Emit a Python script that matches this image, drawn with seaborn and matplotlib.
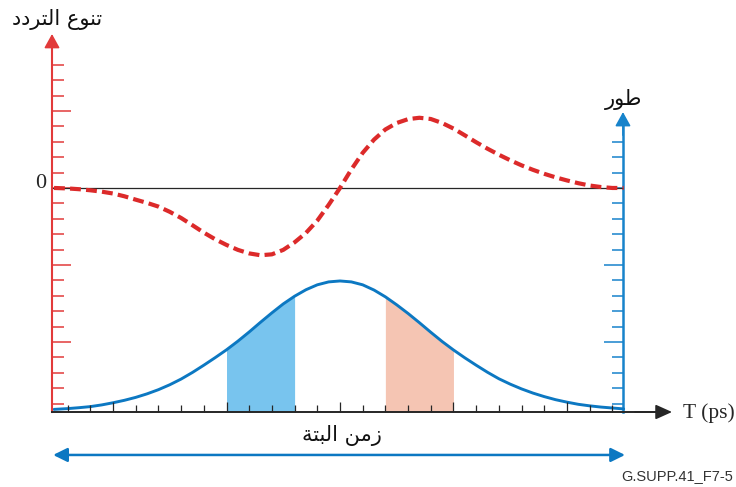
import numpy as np
import pandas as pd
import matplotlib
matplotlib.use("Agg")
import matplotlib.pyplot as plt
from matplotlib.ticker import FixedLocator
import seaborn as sns

# ---------------------------------------------------------------- data
# Frequency deviation (red dashed, left axis, tick units)
t_freq = [-12.6, -12, -11.5, -11, -10.5, -10, -9.5, -9, -8.5, -8, -7.5, -7,
          -6.5, -6, -5.5, -5, -4.5, -4, -3.5, -3, -2.5, -2, -1.5, -1, -0.5,
          0, 0.5, 1, 1.5, 2, 2.5, 3, 3.5, 4, 4.5, 5, 5.5, 6, 6.5, 7, 7.5,
          8, 8.5, 9, 9.5, 10, 10.5, 11, 11.5, 12, 12.5]
freq_dev = [0.0, -0.03, -0.08, -0.15, -0.24, -0.36, -0.54, -0.76, -0.97, -1.21,
            -1.55, -1.95, -2.42, -2.90, -3.33, -3.70, -4.02, -4.25, -4.37, -4.31,
            -4.02, -3.53, -2.92, -2.12, -1.10, 0.0, 1.20, 2.28, 3.14, 3.80, 4.22,
            4.47, 4.56, 4.48, 4.22, 3.86, 3.42, 2.97, 2.55, 2.16, 1.80, 1.47,
            1.18, 0.92, 0.69, 0.49, 0.31, 0.16, 0.06, 0.0, 0.0]

# Phase / pulse envelope (blue, right axis, measured from the time axis)
t_phase = [-12.6, -12, -11.5, -11, -10.5, -10, -9.5, -9, -8.5, -8, -7.5, -7,
           -6.5, -6, -5.5, -5, -4.5, -4, -3.5, -3, -2.5, -2, -1.5, -1, -0.5,
           0, 0.5, 1, 1.5, 2, 2.5, 3, 3.5, 4, 4.5, 5, 5.5, 6, 6.5, 7, 7.5,
           8, 8.5, 9, 9.5, 10, 10.5, 11, 11.5, 12, 12.5]
phase = [0.17, 0.22, 0.28, 0.35, 0.46, 0.60, 0.76, 0.95, 1.18, 1.45, 1.77,
         2.14, 2.57, 3.04, 3.53, 4.04, 4.60, 5.20, 5.83, 6.44, 7.02, 7.52,
         7.94, 8.26, 8.45, 8.51, 8.45, 8.26, 7.92, 7.48, 6.96, 6.40, 5.80,
         5.18, 4.58, 4.03, 3.52, 3.04, 2.58, 2.16, 1.81, 1.50, 1.23, 1.00,
         0.80, 0.64, 0.50, 0.40, 0.32, 0.26, 0.20]

# Shaded time windows under the envelope
blue_window = (-5, -2)
pink_window = (2, 5)

# Axis ticks
time_ticks = list(range(-12, 13))
time_major = [-10, -5, 0, 5, 10]
freq_ticks = list(range(-14, 9))
freq_major = [-10, -5, 0, 5]
phase_tick_levels = list(range(-14, 4))   # same heights as the left ticks
phase_major_levels = [-10, -5]

# Labels
label_freq = "تنوع التردد"
label_phase = "طور"
label_bit = "زمن البتة"
label_time = "T (ps)"
label_zero = "0"
label_ref = "G.SUPP.41_F7-5"

# ---------------------------------------------------------------- colours
RED = "#dc2a2a"
RED_AXIS = "#e23a3a"
BLUE = "#0c78c2"
BLUE_AXIS = "#1783cb"
BLUE_FILL = "#78c4ee"
PINK_FILL = "#f5c5b3"
DARK = "#262626"

# ---------------------------------------------------------------- Arabic shaping
# contextual forms: (isolated, final, initial, medial)
ARABIC_FORMS = {
    "\u0627": ("\uFE8D", "\uFE8E", None, None),
    "\u0628": ("\uFE8F", "\uFE90", "\uFE91", "\uFE92"),
    "\u0629": ("\uFE93", "\uFE94", None, None),
    "\u062A": ("\uFE95", "\uFE96", "\uFE97", "\uFE98"),
    "\u062F": ("\uFEA9", "\uFEAA", None, None),
    "\u0631": ("\uFEAD", "\uFEAE", None, None),
    "\u0632": ("\uFEAF", "\uFEB0", None, None),
    "\u0637": ("\uFEC1", "\uFEC2", "\uFEC3", "\uFEC4"),
    "\u0639": ("\uFEC9", "\uFECA", "\uFECB", "\uFECC"),
    "\u0644": ("\uFEDD", "\uFEDE", "\uFEDF", "\uFEE0"),
    "\u0645": ("\uFEE1", "\uFEE2", "\uFEE3", "\uFEE4"),
    "\u0646": ("\uFEE5", "\uFEE6", "\uFEE7", "\uFEE8"),
    "\u0648": ("\uFEED", "\uFEEE", None, None),
}


def shape_arabic(text):
    """Pick joined letter forms and return the string in visual order."""
    out = []
    for i, ch in enumerate(text):
        forms = ARABIC_FORMS.get(ch)
        if forms is None:
            out.append(ch)
            continue
        prev = text[i - 1] if i > 0 else ""
        nxt = text[i + 1] if i + 1 < len(text) else ""
        join_prev = prev in ARABIC_FORMS and ARABIC_FORMS[prev][2] is not None
        join_next = forms[2] is not None and nxt in ARABIC_FORMS
        if join_prev and join_next:
            out.append(forms[3])
        elif join_prev:
            out.append(forms[1])
        elif join_next:
            out.append(forms[2])
        else:
            out.append(forms[0])
    return "".join(reversed(out))


# ---------------------------------------------------------------- figure
sns.set_style("white")
plt.rcParams["font.family"] = ["DejaVu Sans"]

W, H = 736, 487
fig = plt.figure(figsize=(W / 100, H / 100), dpi=100)


def fx(px):
    return px / W


def fy(py):
    return 1 - py / H


# axes box: left axis to the time-arrow tip, time axis to the red arrow tip
ax = fig.add_axes([fx(52), fy(412), fx(672) - fx(52), fy(34) - fy(412)])
ax.set_xlim(-12.69, 14.63)
ax.set_ylim(-14.55, 10.0)

ax_ph = ax.twinx()
PH_OFFSET = 14.55                      # time axis sits at phase 0
ax_ph.set_ylim(-14.55 + PH_OFFSET, 10.0 + PH_OFFSET)
RIGHT_X = 12.47                        # position of the phase axis
PHASE_TOP = 19.48

# frequency axes (time axis and its ticks) drawn over the shaded windows
ax.set_zorder(ax_ph.get_zorder() + 1)
ax.patch.set_visible(False)
ax_ph.patch.set_visible(False)

# ---- spines
for s in ["top", "right"]:
    ax.spines[s].set_visible(False)
ax.spines["left"].set_color(RED_AXIS)
ax.spines["left"].set_linewidth(1.5)
ax.spines["left"].set_bounds(-14.55, 9.2)
ax.spines["bottom"].set_color(DARK)
ax.spines["bottom"].set_linewidth(1.4)
ax.spines["bottom"].set_bounds(-12.69, 14.0)

for s in ["top", "left", "bottom"]:
    ax_ph.spines[s].set_visible(False)
ax_ph.spines["right"].set_position(("data", RIGHT_X))
ax_ph.spines["right"].set_color(BLUE_AXIS)
ax_ph.spines["right"].set_linewidth(1.8)
ax_ph.spines["right"].set_bounds(0, PHASE_TOP - 0.6)

# ---- ticks
ax.xaxis.set_major_locator(FixedLocator(time_major))
ax.xaxis.set_minor_locator(FixedLocator([t for t in time_ticks if t not in time_major]))
ax.tick_params(axis="x", which="both", direction="in", colors=DARK, width=0.9,
               labelbottom=False, bottom=True)
ax.tick_params(axis="x", which="major", length=7.4)
ax.tick_params(axis="x", which="minor", length=5.2)

ax.yaxis.set_major_locator(FixedLocator(freq_major))
ax.yaxis.set_minor_locator(FixedLocator([t for t in freq_ticks if t not in freq_major]))
ax.tick_params(axis="y", which="both", direction="in", colors=RED_AXIS, width=1.1,
               labelleft=False, left=True, right=False)
ax.tick_params(axis="y", which="major", length=13.7)
ax.tick_params(axis="y", which="minor", length=8.4)

ph_major = [v + PH_OFFSET for v in phase_major_levels]
ph_minor = [v + PH_OFFSET for v in phase_tick_levels if v not in phase_major_levels]
ax_ph.yaxis.set_major_locator(FixedLocator(ph_major))
ax_ph.yaxis.set_minor_locator(FixedLocator(ph_minor))
ax_ph.tick_params(axis="y", which="both", direction="in", colors=BLUE_AXIS, width=1.1,
                  labelright=False, right=True, left=False)
ax_ph.tick_params(axis="y", which="major", length=13.7)
ax_ph.tick_params(axis="y", which="minor", length=8.0)

# ---- zero line of the frequency axis
ax.hlines(0, -12.69, RIGHT_X, color=DARK, lw=0.9, zorder=1)

# ---- frequency deviation curve
df_freq = pd.DataFrame({"t": t_freq, "dev": freq_dev})
sns.lineplot(data=df_freq, x="t", y="dev", ax=ax, color=RED, lw=3.0,
             linestyle=(0, (2.6, 1.25)), errorbar=None, zorder=3)
ax.lines[-1].set_dash_capstyle("butt")

# ---- envelope with shaded windows
df_ph = pd.DataFrame({"t": t_phase, "phase": phase})
for (lo, hi), col in [(blue_window, BLUE_FILL), (pink_window, PINK_FILL)]:
    seg = df_ph[(df_ph.t >= lo) & (df_ph.t <= hi)]
    ax_ph.fill_between(seg.t, 0, seg.phase, color=col, lw=0, zorder=1)
sns.lineplot(data=df_ph, x="t", y="phase", ax=ax_ph, color=BLUE, lw=2.1,
             errorbar=None, zorder=3)
ax_ph.lines[-1].set_solid_joinstyle("round")
ax_ph.set_ylabel("")
ax.set_xlabel("")
ax.set_ylabel("")


# ---- arrow heads
def arrow(axis, start, end, color, lw, hl, hw, style="-|>"):
    axis.annotate("", xy=end, xytext=start, xycoords="data", textcoords="data",
                  annotation_clip=False,
                  arrowprops=dict(arrowstyle=f"{style},head_length={hl},head_width={hw}",
                                  color=color, lw=lw, shrinkA=0, shrinkB=0))


arrow(ax, (-12.69, 8.5), (-12.69, 10.0), RED_AXIS, 1.2, 0.85, 0.47)
arrow(ax_ph, (RIGHT_X, PHASE_TOP - 1.5), (RIGHT_X, PHASE_TOP), BLUE_AXIS, 1.2, 0.85, 0.47)
arrow(ax, (13.0, -14.55), (14.63, -14.55), DARK, 1.2, 1.0, 0.45)
arrow(ax, (-12.64, -17.34), (12.56, -17.34), BLUE, 1.8, 0.85, 0.42, style="<|-|>")

# ---- text
serif = ["Liberation Serif", "DejaVu Serif"]
fig.text(fx(46), fy(184), label_zero, ha="right", va="center", fontsize=16,
         family=serif, color=DARK)
fig.text(fx(683), fy(418), label_time, ha="left", va="baseline", fontsize=15.5,
         family=serif, color=DARK)
fig.text(fx(57), fy(19), shape_arabic(label_freq), ha="center", va="center",
         fontsize=15, family=["DejaVu Sans"], color="#111111")
fig.text(fx(624), fy(99), shape_arabic(label_phase), ha="center", va="center",
         fontsize=15, family=["DejaVu Sans"], color="#111111")
fig.text(fx(342), fy(435), shape_arabic(label_bit), ha="center", va="center",
         fontsize=15, family=["DejaVu Sans"], color="#111111")
fig.text(fx(733), fy(480), label_ref, ha="right", va="baseline", fontsize=10.5,
         family=["Liberation Sans", "DejaVu Sans"], color="#333333")

fig.savefig("out.png", dpi=100)
